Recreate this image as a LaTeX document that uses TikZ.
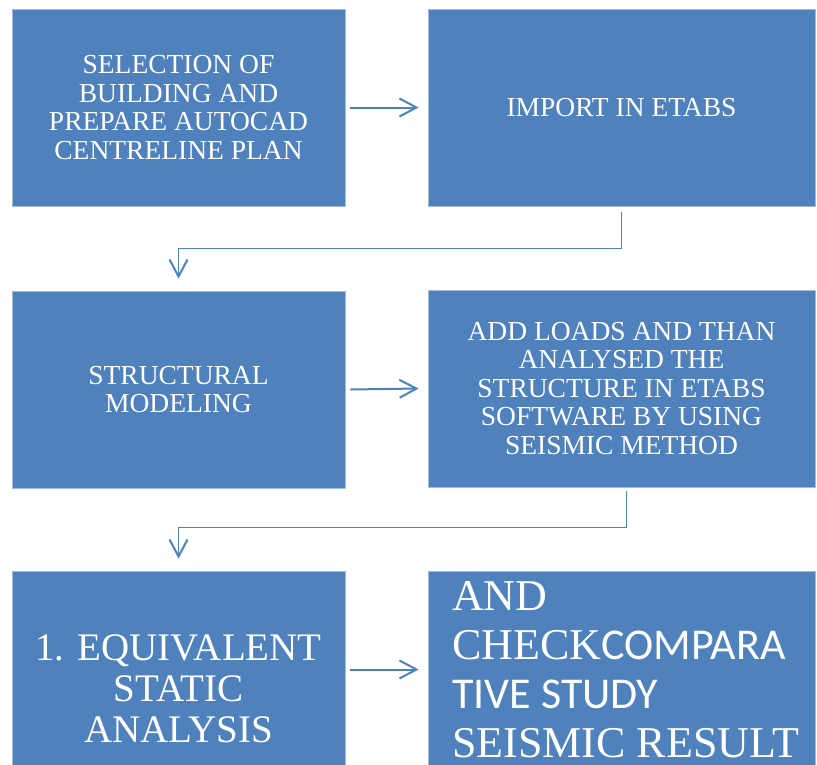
\documentclass[tikz,border=0pt]{standalone}
\usepackage{fontspec}
\setmainfont{Liberation Serif}
\newfontfamily\sansfont{Carlito}
\usetikzlibrary{arrows.meta,positioning}

\definecolor{boxblue}{HTML}{4F81BD}
\definecolor{rimblue}{HTML}{A3BCDC}

\tikzset{
  procbox/.style={draw=rimblue, line width=0.8pt, fill=boxblue, text=white,
    align=center, inner sep=0pt, minimum height=197pt},
  narrowbox/.style={procbox, minimum width=333pt},
  widebox/.style={procbox, minimum width=387pt},
  smalltext/.style={font=\fontsize{27.5}{28.5}\selectfont},
  flow/.style={draw=boxblue, line width=2pt,
    -{Straight Barb[length=17pt,width=18pt,line width=2pt]}},
}

\begin{document}
\begin{tikzpicture}[x=1pt,y=-1pt]

  \useasboundingbox (0,0) rectangle (817,764);
  \clip (0,0) rectangle (817,764);

  % first row
  \node[narrowbox, smalltext] (select) at (178.5,107.5)
    {SELECTION OF\\BUILDING AND\\PREPARE AUTOCAD\\CENTRELINE PLAN};
  \node[widebox, smalltext] (import) at (621.5,107.5) {IMPORT IN ETABS};

  % second row
  \node[narrowbox, smalltext] (model) at (178.5,389.5) {STRUCTURAL\\MODELING};
  \node[widebox, smalltext] (loads) at (621.5,388.5)
    {ADD LOADS AND THAN\\ANALYSED THE\\STRUCTURE IN ETABS\\SOFTWARE BY USING\\SEISMIC METHOD};

  % third row, cut off at the bottom
  \node[narrowbox] (static) at (178.5,669.5) {};
  \node[widebox] (result) at (621.5,669.5) {};
  \node[text=white, align=center, font=\fontsize{39}{41}\selectfont]
    (statictext) at (178.5,689) {1. EQUIVALENT\\STATIC\\ANALYSIS};
  \node[text=white, align=left, anchor=north west, inner sep=0pt,
    font=\fontsize{44}{49}\selectfont] (resulttext) at (452,581)
    {AND\\CHECK{\sansfont COMPARA}\\{\sansfont TIVE STUDY}\\SEISMIC RESULT};

  % arrows along the rows
  \draw[flow] ([xshift=5pt]select.east) -- ([xshift=-9pt]import.west);
  \draw[flow] ([xshift=5pt]model.east) -- ([xshift=-9pt]loads.west);
  \draw[flow] ([xshift=5pt]static.east) -- ([xshift=-9pt]result.west);

  % arrows between the rows
  \draw[flow, line width=1.8pt] ([yshift=-6pt]import.south) -- ++(0,36)
    -| ([yshift=12pt]model.north);
  \draw[flow, line width=1.8pt] ([xshift=5pt,yshift=-4pt]loads.south) -- ++(0,36)
    -| ([yshift=12pt]static.north);

\end{tikzpicture}
\end{document}
